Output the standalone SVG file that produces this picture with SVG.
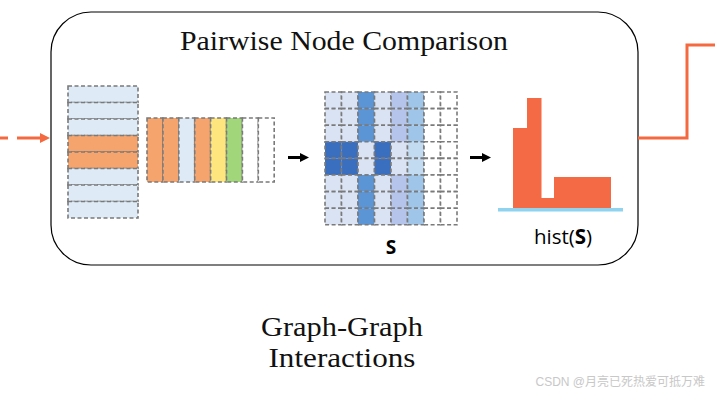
<svg xmlns="http://www.w3.org/2000/svg" width="715" height="394" viewBox="0 0 715 394">
<style>
.c{stroke:#7a7a7a;stroke-width:1.6;stroke-dasharray:4 2.5}
.serif{font-family:"Liberation Serif","DejaVu Serif",serif;fill:#111}
.sans{font-family:"Open Sans","Noto Sans","Liberation Sans",sans-serif;fill:#000}
.o{fill:#f4a46c}.lb{fill:#deebf7}.y{fill:#fee57d}.g{fill:#a2d67a}.w{fill:#fff}
.l{fill:#dae3f3}.m{fill:#5b95d5}.v{fill:#b4c4ea}.p{fill:#9fc5e8}.d{fill:#3a6ebf}.q{fill:#c3dbf0}
.bar{fill:#f46a45}
.shaft{stroke:#000;stroke-width:3}
</style>
<g id="box">
<rect x="51" y="12" width="587" height="253" rx="40" ry="40" fill="#fff" stroke="#000" stroke-width="1.2"/>
<text class="serif" x="344" y="50" font-size="27" text-anchor="middle" textLength="328" lengthAdjust="spacingAndGlyphs">Pairwise Node Comparison</text>
</g>
<g id="connectors">
<line x1="0" y1="138" x2="8" y2="138" stroke="#f4693f" stroke-width="3"/>
<line x1="17" y1="138" x2="41" y2="138" stroke="#f4693f" stroke-width="3"/>
<path d="M40,133 L50,138 L40,143 z" fill="#f4693f"/>
<polyline points="638,138 687,138 687,45 715,45" fill="none" stroke="#f4693f" stroke-width="3"/>
<line class="shaft" x1="288" y1="157.5" x2="301" y2="157.5"/>
<path d="M300,153 L309,157.5 L300,162 z" fill="#000"/>
<line class="shaft" x1="470" y1="157.5" x2="483" y2="157.5"/>
<path d="M482,153 L491,157.5 L482,162 z" fill="#000"/>
</g>
<g id="node-features">
<rect class="c lb" x="68" y="86" width="70" height="16.5"/>
<rect class="c lb" x="68" y="102.5" width="70" height="16.5"/>
<rect class="c lb" x="68" y="119" width="70" height="16.5"/>
<rect class="c o" x="68" y="135.5" width="70" height="16.5"/>
<rect class="c o" x="68" y="152" width="70" height="16.5"/>
<rect class="c lb" x="68" y="168.5" width="70" height="16.5"/>
<rect class="c lb" x="68" y="185" width="70" height="16.5"/>
<rect class="c lb" x="68" y="201.5" width="70" height="16.5"/>
</g>
<g id="node-features-t">
<rect class="c o" x="147" y="118" width="15.9" height="64"/>
<rect class="c o" x="162.9" y="118" width="15.9" height="64"/>
<rect class="c lb" x="178.8" y="118" width="15.9" height="64"/>
<rect class="c o" x="194.7" y="118" width="15.9" height="64"/>
<rect class="c y" x="210.6" y="118" width="15.9" height="64"/>
<rect class="c g" x="226.5" y="118" width="15.9" height="64"/>
<rect class="c w" x="242.4" y="118" width="15.9" height="64"/>
<rect class="c w" x="258.3" y="118" width="15.9" height="64"/>
</g>
<g id="similarity-matrix">
<g transform="translate(325,92)">
<g id="r0">
<rect class="c l" x="0" y="0" width="16.5" height="16.6"/><rect class="c l" x="16.5" y="0" width="16.5" height="16.6"/><rect class="c m" x="33" y="0" width="16.5" height="16.6"/><rect class="c l" x="49.5" y="0" width="16.5" height="16.6"/><rect class="c v" x="66" y="0" width="16.5" height="16.6"/><rect class="c p" x="82.5" y="0" width="16.5" height="16.6"/><rect class="c w" x="99" y="0" width="16.5" height="16.6"/><rect class="c w" x="115.5" y="0" width="16.5" height="16.6"/>
</g>
<use href="#r0" y="16.6"/>
<use href="#r0" y="33.2"/>
<g id="r3" transform="translate(0,49.8)">
<rect class="c d" x="0" y="0" width="16.5" height="16.6"/><rect class="c d" x="16.5" y="0" width="16.5" height="16.6"/><rect class="c l" x="33" y="0" width="16.5" height="16.6"/><rect class="c d" x="49.5" y="0" width="16.5" height="16.6"/><rect class="c l" x="66" y="0" width="16.5" height="16.6"/><rect class="c q" x="82.5" y="0" width="16.5" height="16.6"/><rect class="c w" x="99" y="0" width="16.5" height="16.6"/><rect class="c w" x="115.5" y="0" width="16.5" height="16.6"/>
</g>
<use href="#r3" y="16.6"/>
<use href="#r0" y="83"/>
<use href="#r0" y="99.6"/>
<use href="#r0" y="116.2"/>
</g>
<text class="sans" x="391" y="254" font-size="19" font-weight="bold" text-anchor="middle">S</text>
</g>
<g id="histogram">
<rect class="bar" x="513" y="128" width="14.5" height="82"/>
<rect class="bar" x="527" y="98" width="14.5" height="112"/>
<rect class="bar" x="541" y="198" width="13.5" height="12"/>
<rect class="bar" x="554" y="177" width="57" height="33"/>
<rect x="498" y="208" width="125" height="3.5" fill="#8fd3ef"/>
<text class="sans" x="563" y="244" font-size="20.5" text-anchor="middle">hist(<tspan font-weight="bold">S</tspan>)</text>
</g>
<g id="caption">
<text class="serif" x="342" y="336" font-size="27" text-anchor="middle" textLength="162" lengthAdjust="spacingAndGlyphs">Graph-Graph</text>
<text class="serif" x="342" y="367" font-size="27" text-anchor="middle" textLength="147" lengthAdjust="spacingAndGlyphs">Interactions</text>
</g>
<text x="705" y="386" font-size="12" text-anchor="end" fill="#c8c8c8" font-family="'Liberation Sans','Noto Sans CJK SC',sans-serif">CSDN @月亮已死热爱可抵万难</text>
</svg>
